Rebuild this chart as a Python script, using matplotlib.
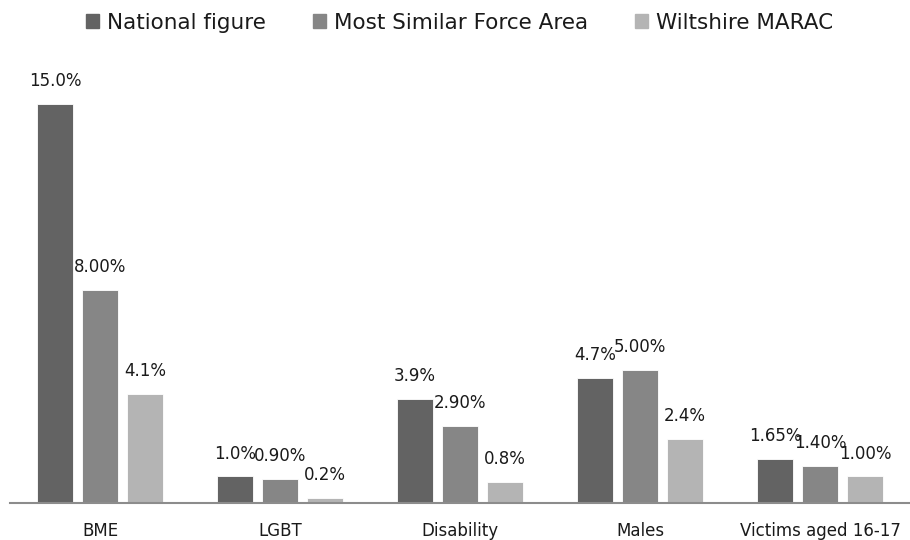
import matplotlib
matplotlib.use("Agg")
import matplotlib.pyplot as plt
import numpy as np
from matplotlib.patches import Patch

categories = ["BME", "LGBT", "Disability", "Males", "Victims aged 16-17"]
series_names = ["National figure", "Most Similar Force Area", "Wiltshire MARAC"]
national = [15.0, 1.0, 3.9, 4.7, 1.65]
similar = [8.00, 0.90, 2.90, 5.00, 1.40]
wiltshire = [4.1, 0.2, 0.8, 2.4, 1.00]
national_labels = ["15.0%", "1.0%", "3.9%", "4.7%", "1.65%"]
similar_labels = ["8.00%", "0.90%", "2.90%", "5.00%", "1.40%"]
wiltshire_labels = ["4.1%", "0.2%", "0.8%", "2.4%", "1.00%"]

colors = ["#636363", "#868686", "#b4b4b4"]
plt.rcParams['font.family'] = ['DejaVu Sans']

fig = plt.figure(figsize=(9.1, 5.4), dpi=100)
ax = fig.add_axes([10/910, 37/540, 900/910, 425.6/540])

x = np.arange(len(categories))
w = 0.2
offsets = [-0.25, 0.0, 0.25]
data = [national, similar, wiltshire]
labels = [national_labels, similar_labels, wiltshire_labels]
for vals, labs, off, c in zip(data, labels, offsets, colors):
    bars = ax.bar(x + off, vals, width=w, color=c, edgecolor="white", linewidth=0.6)
    for b, lab in zip(bars, labs):
        ax.annotate(lab, (b.get_x() + b.get_width()/2, b.get_height()),
                    xytext=(0, 10), textcoords="offset points",
                    ha="center", va="bottom", fontsize=12, color="#1a1a1a")

ax.set_xlim(-0.5, 4.5)
ax.set_ylim(0, 16)
ax.set_xticks(x)
ax.set_xticklabels(categories, fontsize=12, color="#1a1a1a")
ax.tick_params(axis='x', length=0, pad=14)
ax.set_yticks([])
for s in ["top", "right", "left"]:
    ax.spines[s].set_visible(False)
ax.spines["bottom"].set_color("#8c8c8c")
ax.spines["bottom"].set_linewidth(1.5)

handles = [Patch(color=c) for c in colors]
fig.legend(handles, series_names, loc="upper center", bbox_to_anchor=(0.505, 1.012),
           ncol=3, frameon=False, fontsize=15.5, handlelength=0.6, handleheight=0.6,
           handletextpad=0.35, columnspacing=2.2, labelcolor="#1a1a1a")

fig.savefig("out.png", dpi=100)
